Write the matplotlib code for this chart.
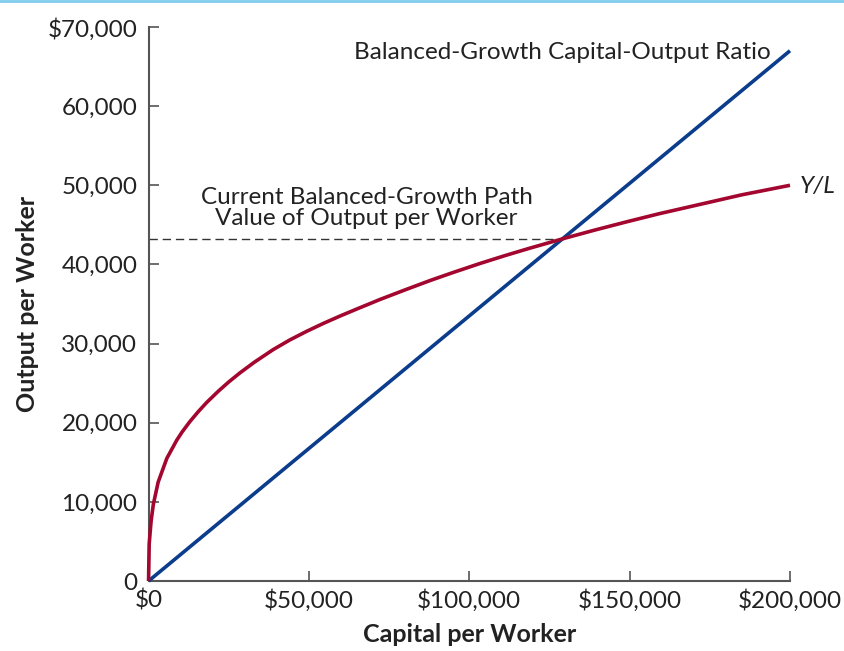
import matplotlib.pyplot as plt
from matplotlib.lines import Line2D

plt.rcParams['font.family'] = ['Lato', 'DejaVu Sans']

# values
capital = [0, 200, 800, 1500, 3000, 5700, 8800, 10500, 12900, 15500, 18100, 21800, 25000,
           28500, 33000, 38900, 44000, 49300, 54500, 59700, 65000, 72200, 80000, 87800,
           95000, 103400, 111000, 118900, 129300, 139000, 149100, 159000, 169900, 185000,
           200000]
output = [0, 4700, 7600, 9700, 12500, 15500, 17800, 18850, 20150, 21400, 22550, 24000, 25150,
          26300, 27650, 29250, 30450, 31550, 32550, 33480, 34380, 35580, 36790, 37970,
          38990, 40130, 41100, 42060, 43260, 44330, 45390, 46390, 47400, 48800,
          50000]
ratio_k = [0, 200000]
ratio_y = [0, 67000]
bgp_k = 128500
bgp_y = 43200

xticks = [0, 50000, 100000, 150000, 200000]
xlabels = ['$0', '$50,000', '$100,000', '$150,000', '$200,000']
yticks = [0, 10000, 20000, 30000, 40000, 50000, 60000, 70000]
ylabels = ['0', '10,000', '20,000', '30,000', '40,000', '50,000', '60,000', '$70,000']

red = '#A3062E'
blue = '#0B3D8C'
grey = '#555555'

fig = plt.figure(figsize=(8.44, 6.51), dpi=100)
ax = fig.add_axes([0.176, 0.1075, 0.76, 0.851])

ax.plot([0, bgp_k], [bgp_y, bgp_y], color='#333333', lw=1, dashes=(6, 3.5))
ax.plot(ratio_k, ratio_y, color=blue, lw=2.6, clip_on=False, solid_capstyle='butt', zorder=3)
ax.plot(capital, output, color=red, lw=2.6, clip_on=False, solid_capstyle='butt',
        solid_joinstyle='round', zorder=4)

ax.set_xlim(0, 200000)
ax.set_ylim(0, 70000)
ax.set_xticks(xticks)
ax.set_xticklabels(xlabels)
ax.set_yticks(yticks)
ax.set_yticklabels(ylabels)
ax.tick_params(direction='in', length=7, width=1.2, color=grey, labelsize=17.5,
               labelcolor='#222222')
ax.tick_params(axis='x', pad=6)
ax.tick_params(axis='y', pad=8)
for s in ['top', 'right']:
    ax.spines[s].set_visible(False)
for s in ['left', 'bottom']:
    ax.spines[s].set_color(grey)
    ax.spines[s].set_linewidth(1.5)

ax.set_xlabel('Capital per Worker', fontsize=18, fontweight='bold', color='#222222', labelpad=8)
ax.set_ylabel('Output per Worker', fontsize=18, fontweight='bold', color='#222222', labelpad=6)

ax.text(194000, 66800, 'Balanced-Growth Capital-Output Ratio', ha='right', va='center',
        fontsize=17.5, color='#222222')
ax.text(203000, 49800, 'Y/L', ha='left', va='center', fontsize=17.5, style='italic',
        color='#222222', clip_on=False)
ax.text(68000, 47100, 'Current Balanced-Growth Path\nValue of Output per Worker',
        ha='center', va='center', multialignment='center', fontsize=17.5,
        color='#222222', linespacing=1.0)

fig.add_artist(Line2D([0, 1], [0.9985, 0.9985], color='#7FCCEC', lw=2,
                      transform=fig.transFigure))

fig.savefig('out.png', dpi=100)
